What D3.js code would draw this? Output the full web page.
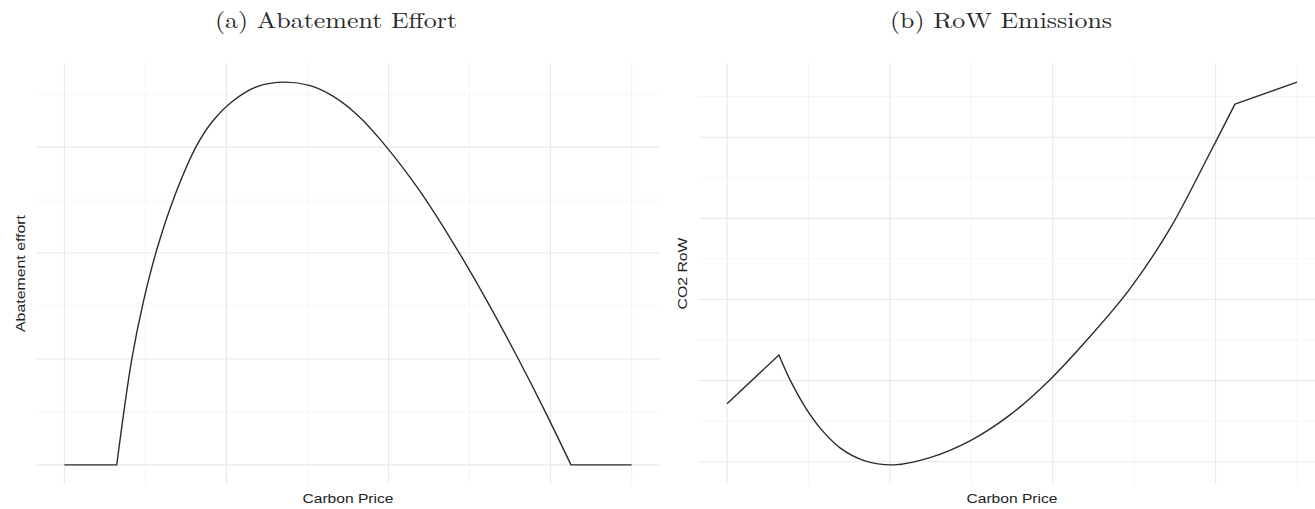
<!DOCTYPE html>
<html>
<head>
<meta charset="utf-8">
<script src="https://cdn.jsdelivr.net/npm/d3@7"></script>
<style>
  body { margin: 0; background: #fff; }
  svg { display: block; }
</style>
</head>
<body>
<svg id="fig" width="1315" height="509"></svg>
<script>
// Panel (a): abatement effort against the carbon price
const abatementPrice  = [0, 32.3, 41.5, 48.7, 57.0, 67.6, 81.6, 91.1, 104.0, 118.9, 136.1, 151.6, 165.7, 180.6, 194.7, 218.2, 240.4, 260.8, 279.3, 296.5, 312.6, 350];
const abatementEffort = [0, 0, 0.990, 1.537, 2.031, 2.521, 3.014, 3.238, 3.436, 3.572, 3.614, 3.581, 3.482, 3.307, 3.076, 2.610, 2.083, 1.547, 1.023, 0.508, 0, 0];
const abatementCorners = [1, 20];   // indices where the curve has a kink

// Panel (b): rest-of-world CO2 emissions against the carbon price
const rowPrice     = [0, 31.9, 38.7, 47.9, 57.1, 69.4, 84.7, 102.5, 124.6, 149.2, 173.8, 198.3, 222.9, 247.5, 272.0, 296.6, 311.9, 350];
const rowEmissions = [2.713, 3.316, 3.008, 2.676, 2.417, 2.171, 2.011, 1.961, 2.050, 2.257, 2.577, 3.011, 3.543, 4.134, 4.873, 5.809, 6.408, 6.679];
const rowCorners = [1, 16];

// Grid breaks
const priceMajor = [0, 100, 200, 300];
const priceMinor = [50, 150, 250, 350];
const abatementMajor = [0, 1, 2, 3];
const abatementMinor = [0.5, 1.5, 2.5, 3.5];
const rowMajor = [2, 3, 4, 5, 6];
const rowMinor = [2.5, 3.5, 4.5, 5.5, 6.5];

const titles = ["(a) Abatement Effort", "(b) RoW Emissions"];
const yTitles = ["Abatement effort", "CO2 RoW"];
const xTitle = "Carbon Price";

const svg = d3.select("#fig");
svg.append("rect").attr("width", 1315).attr("height", 509).attr("fill", "#fff");

function expand(ext, f = 0.05) {
  const d = (ext[1] - ext[0]) * f;
  return [ext[0] - d, ext[1] + d];
}

function panel(opts) {
  const { px, py, xMaj, xMin, yMaj, yMin, corners, title, titleX, titleW, yTitle, yTitleX, yTitleLen } = opts;
  const x = d3.scaleLinear().domain(expand(d3.extent(px))).range([opts.left, opts.right]);
  const y = d3.scaleLinear().domain(expand(d3.extent(py))).range([opts.bottom, opts.top]);
  const g = svg.append("g");

  // minor grid
  g.selectAll(".hmin").data(yMin).join("line")
    .attr("x1", opts.left).attr("x2", opts.right)
    .attr("y1", d => y(d)).attr("y2", d => y(d))
    .attr("stroke", "#efefef").attr("stroke-width", 0.6);
  g.selectAll(".vmin").data(xMin).join("line")
    .attr("y1", opts.top).attr("y2", opts.bottom)
    .attr("x1", d => x(d)).attr("x2", d => x(d))
    .attr("stroke", "#f3eaec").attr("stroke-width", 0.6);
  // major grid
  g.selectAll(".hmaj").data(yMaj).join("line")
    .attr("x1", opts.left).attr("x2", opts.right)
    .attr("y1", d => y(d)).attr("y2", d => y(d))
    .attr("stroke", "#e9e9e9").attr("stroke-width", 1.1);
  g.selectAll(".vmaj").data(xMaj).join("line")
    .attr("y1", opts.top).attr("y2", opts.bottom)
    .attr("x1", d => x(d)).attr("x2", d => x(d))
    .attr("stroke", "#efe4e7").attr("stroke-width", 1.1);

  // curve: smooth between kinks, straight through the corner points
  const pts = px.map((p, i) => [p, py[i]]);
  const cuts = [0, ...corners, pts.length - 1];
  const line = d3.line().x(d => x(d[0])).y(d => y(d[1])).curve(d3.curveCatmullRom.alpha(0.5));
  let dStr = "";
  for (let k = 0; k < cuts.length - 1; k++) {
    const seg = pts.slice(cuts[k], cuts[k + 1] + 1);
    let s = line(seg);
    if (k > 0) s = s.replace(/^M[^A-Za-z]*/, "L" + x(seg[0][0]) + "," + y(seg[0][1]));
    dStr += s;
  }
  g.append("path").attr("d", dStr)
    .attr("fill", "none").attr("stroke", "#2b2b2b")
    .attr("stroke-width", 1.4).attr("stroke-linejoin", "round");

  // titles
  g.append("text").attr("x", titleX).attr("y", 28)
    .attr("text-anchor", "middle")
    .attr("font-family", "'Latin Modern Roman','CMU Serif','Liberation Serif',serif")
    .attr("font-size", 22).attr("fill", "#2a2a2a")
    .attr("textLength", titleW).attr("lengthAdjust", "spacingAndGlyphs")
    .text(title);
  g.append("text").attr("x", (opts.left + opts.right) / 2).attr("y", 503)
    .attr("text-anchor", "middle")
    .attr("font-family", "'Liberation Sans',Arial,sans-serif")
    .attr("font-size", 13.5).attr("fill", "#222")
    .attr("textLength", 91).attr("lengthAdjust", "spacingAndGlyphs")
    .text(xTitle);
  g.append("text")
    .attr("transform", `translate(${yTitleX},${(opts.top + opts.bottom) / 2}) rotate(-90)`)
    .attr("text-anchor", "middle")
    .attr("font-family", "'Liberation Sans',Arial,sans-serif")
    .attr("font-size", 13.5).attr("fill", "#222")
    .attr("textLength", yTitleLen).attr("lengthAdjust", "spacingAndGlyphs")
    .text(yTitle);
}

panel({
  px: abatementPrice, py: abatementEffort, corners: abatementCorners,
  xMaj: priceMajor, xMin: priceMinor, yMaj: abatementMajor, yMin: abatementMinor,
  left: 36, right: 660, top: 63, bottom: 484,
  title: titles[0], titleX: 336, titleW: 242,
  yTitle: yTitles[0], yTitleX: 25, yTitleLen: 117
});

panel({
  px: rowPrice, py: rowEmissions, corners: rowCorners,
  xMaj: priceMajor, xMin: priceMinor, yMaj: rowMajor, yMin: rowMinor,
  left: 698.5, right: 1325.5, top: 63, bottom: 484,
  title: titles[1], titleX: 1001, titleW: 222,
  yTitle: yTitles[1], yTitleX: 687, yTitleLen: 72
});
</script>
</body>
</html>
